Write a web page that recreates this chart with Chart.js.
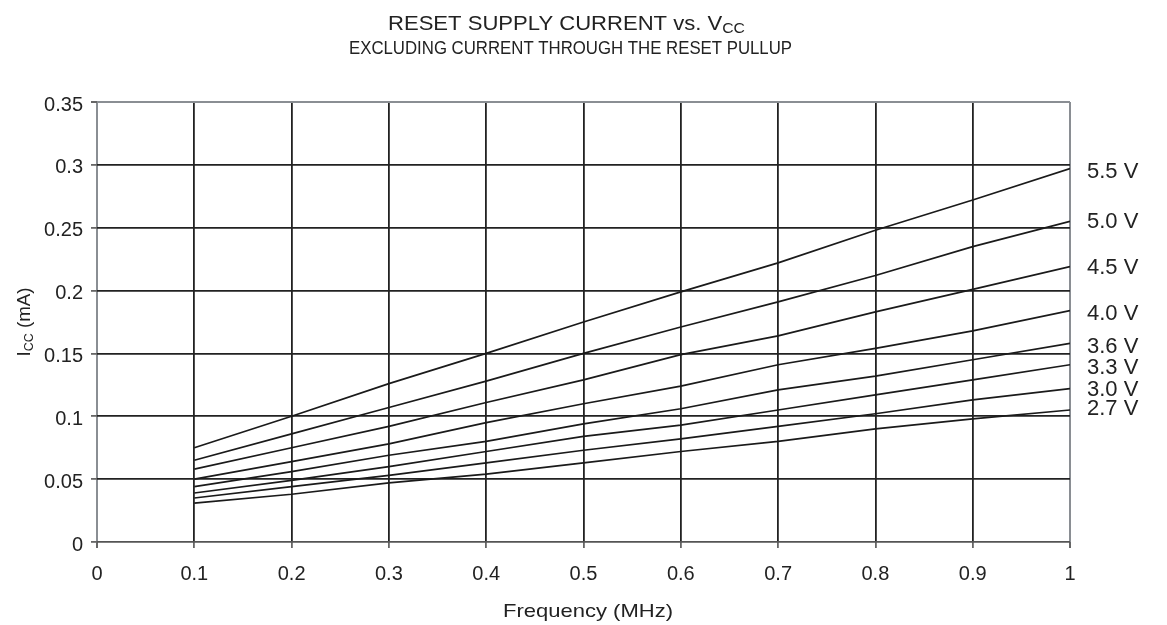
<!DOCTYPE html>
<html>
<head>
<meta charset="utf-8">
<script src="https://cdn.jsdelivr.net/npm/chart.js@4.4.1/dist/chart.umd.min.js"></script>
<style>
  html, body { margin: 0; padding: 0; background: #fff; }
  #wrap { position: relative; width: 1167px; height: 625px; }
</style>
</head>
<body>
<div id="wrap"><canvas id="c" width="1167" height="625"></canvas></div>
<script>
// ---- data ----
const freqMHz = [0.1, 0.2, 0.3, 0.4, 0.5, 0.6, 0.7, 0.8, 0.9, 1.0];
const seriesNames = ["5.5 V", "5.0 V", "4.5 V", "4.0 V", "3.6 V", "3.3 V", "3.0 V", "2.7 V"];
const icc55 = [0.075, 0.100, 0.126, 0.150, 0.175, 0.199, 0.222, 0.248, 0.272, 0.297];
const icc50 = [0.065, 0.086, 0.107, 0.128, 0.150, 0.171, 0.191, 0.212, 0.235, 0.255];
const icc45 = [0.058, 0.075, 0.092, 0.111, 0.129, 0.149, 0.164, 0.183, 0.201, 0.219];
const icc40 = [0.050, 0.064, 0.078, 0.095, 0.110, 0.124, 0.141, 0.154, 0.168, 0.184];
const icc36 = [0.044, 0.056, 0.069, 0.080, 0.094, 0.106, 0.121, 0.132, 0.145, 0.158];
const icc33 = [0.039, 0.049, 0.060, 0.072, 0.084, 0.093, 0.105, 0.117, 0.129, 0.141];
const icc30 = [0.035, 0.044, 0.053, 0.063, 0.073, 0.082, 0.092, 0.102, 0.113, 0.122];
const icc27 = [0.031, 0.038, 0.047, 0.054, 0.063, 0.072, 0.080, 0.090, 0.098, 0.105];
const xTickLabels = ["0", "0.1", "0.2", "0.3", "0.4", "0.5", "0.6", "0.7", "0.8", "0.9", "1"];
const yTickLabels = ["0", "0.05", "0.1", "0.15", "0.2", "0.25", "0.3", "0.35"];
const titleText = "RESET SUPPLY CURRENT vs. V";
const titleSub = "CC";
const subtitleText = "EXCLUDING CURRENT THROUGH THE RESET PULLUP";
const xAxisTitle = "Frequency (MHz)";
const yAxisMain = "I";
const yAxisSub = "CC";
const yAxisRest = " (mA)";

const allSeries = [icc55, icc50, icc45, icc40, icc36, icc33, icc30, icc27];
const datasets = allSeries.map((vals, i) => ({
  label: seriesNames[i],
  data: freqMHz.map((f, j) => ({ x: f, y: vals[j] })),
  borderColor: '#1a1a1a',
  borderWidth: 1.7,
  pointRadius: 0,
  tension: 0,
  fill: false
}));

const FONT = "'Liberation Sans', Arial, Helvetica, sans-serif";

function drawFitted(ctx, text, cx, y, size, targetW) {
  ctx.save();
  ctx.font = size + "px " + FONT;
  const w = ctx.measureText(text).width;
  const sx = targetW ? targetW / w : 1;
  ctx.translate(cx, y);
  ctx.scale(sx, 1);
  ctx.textAlign = 'center';
  ctx.fillText(text, 0, 0);
  ctx.restore();
}

const annot = {
  id: 'annot',
  afterDraw(chart) {
    const ctx = chart.ctx;
    ctx.save();
    ctx.fillStyle = '#222';
    ctx.textBaseline = 'alphabetic';
    // Title with subscript
    ctx.font = "21px " + FONT;
    const w1 = ctx.measureText(titleText).width;
    ctx.font = "15px " + FONT;
    const w2 = ctx.measureText(titleSub).width;
    const total = w1 + w2;
    const tx = 388, scaleT = (745 - 388) / total;
    ctx.save();
    ctx.translate(tx, 30);
    ctx.scale(scaleT, 1);
    ctx.textAlign = 'left';
    ctx.font = "21px " + FONT;
    ctx.fillText(titleText, 0, 0);
    ctx.font = "15px " + FONT;
    ctx.fillText(titleSub, w1, 3);
    ctx.restore();
    // Subtitle
    drawFitted(ctx, subtitleText, (349 + 792) / 2, 54, 18, 443);
    // X axis title
    drawFitted(ctx, xAxisTitle, 588, 617, 19, 170);
    // Y axis title rotated
    ctx.save();
    ctx.translate(30, 322);
    ctx.rotate(-Math.PI / 2);
    ctx.font = "18px " + FONT;
    const a = ctx.measureText(yAxisMain).width;
    ctx.font = "12px " + FONT;
    const b = ctx.measureText(yAxisSub).width;
    ctx.font = "18px " + FONT;
    const c = ctx.measureText(yAxisRest).width;
    const tw = a + b + c;
    const sc = 69 / tw;
    ctx.scale(sc, 1);
    let px = -tw / 2;
    ctx.textAlign = 'left';
    ctx.fillText(yAxisMain, px, 0);
    ctx.font = "12px " + FONT;
    ctx.fillText(yAxisSub, px + a, 3);
    ctx.font = "18px " + FONT;
    ctx.fillText(yAxisRest, px + a + b, 0);
    ctx.restore();
    // Right-hand series labels
    const labelY = [172, 222, 268, 314, 347, 368, 390, 409];
    ctx.font = "22px " + FONT;
    ctx.textAlign = 'left';
    ctx.textBaseline = 'middle';
    seriesNames.forEach((n, i) => {
      ctx.fillText(n, 1087, labelY[i]);
    });
    ctx.restore();
  }
};

const borderGray = '#8a8e93';
new Chart(document.getElementById('c'), {
  type: 'line',
  data: { datasets },
  options: {
    responsive: false,
    animation: false,
    events: [],
    layout: { padding: { left: 0, right: 97, top: 102, bottom: 0 } },
    plugins: { legend: { display: false }, tooltip: { enabled: false }, title: { display: false } },
    scales: {
      x: {
        type: 'linear', min: 0, max: 1,
        afterFit(s) { s.height = 83; },
        ticks: {
          stepSize: 0.1, padding: 14, color: '#222',
          font: { family: FONT, size: 20 },
          maxRotation: 0,
          callback: (v, i) => xTickLabels[i]
        },
        grid: {
          color: (c) => (c.index === 0 || c.index === 10) ? borderGray : '#222',
          lineWidth: (c) => (c.index === 0 || c.index === 10) ? 2 : 1.8,
          tickLength: 6,
          tickColor: '#666'
        },
        border: { display: false }
      },
      y: {
        type: 'linear', min: 0, max: 0.35,
        afterFit(s) { s.width = 97; },
        ticks: {
          stepSize: 0.05, padding: 8, color: '#222',
          font: { family: FONT, size: 20 },
          labelOffset: 3,
          callback: (v, i) => yTickLabels[i]
        },
        grid: {
          color: (c) => (c.index === 7) ? borderGray : (c.index === 0 ? '#555' : '#222'),
          lineWidth: (c) => (c.index === 7) ? 2 : 1.8,
          tickLength: 6,
          tickColor: '#666'
        },
        border: { display: false }
      }
    }
  },
  plugins: [annot]
});
</script>
</body>
</html>
